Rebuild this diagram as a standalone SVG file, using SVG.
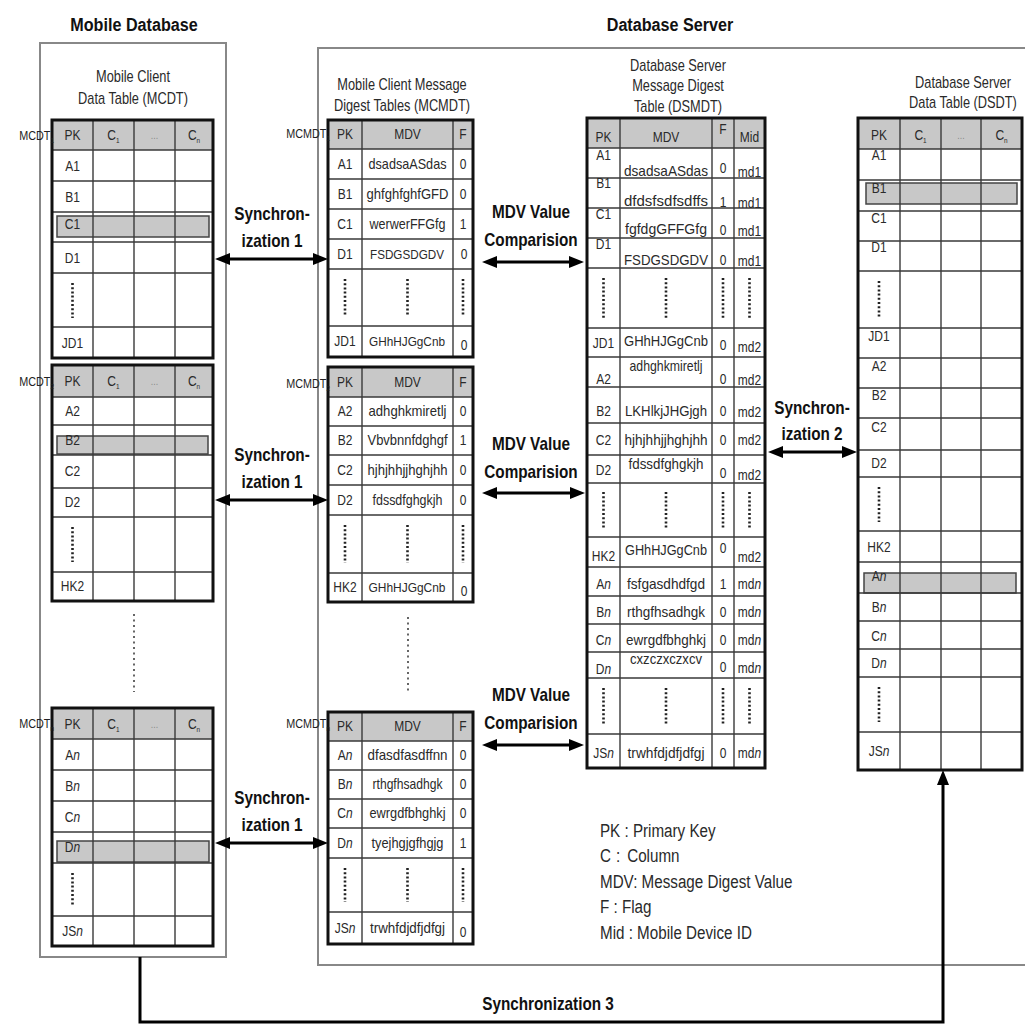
<svg xmlns="http://www.w3.org/2000/svg" width="1025" height="1025" viewBox="0 0 1025 1025">
<defs>
<style>
text{font-family:"Liberation Sans",Arial,sans-serif;fill:#2a2a2a;transform-box:fill-box;transform-origin:center;transform:scaleX(.8)}
.t{font-size:15px;text-anchor:middle}
.v{font-size:15px;text-anchor:middle;transform:none}
.vs{font-size:13.5px}
.s{font-size:13.5px;text-anchor:end;transform-origin:right center;fill:#222}
.ttl{font-size:16px;text-anchor:middle}
.b{font-weight:bold;fill:#111;text-anchor:middle;font-size:18px;transform:scaleX(.85)}
.big{font-size:19px}
.lg{font-size:19px;text-anchor:start;transform-origin:left center}
.el{font-size:11px;fill:#888;text-anchor:middle}
.hdr{fill:#c8c8c8}
.hl{fill:#c8c8c8;stroke:#444;stroke-width:1.5}
.grid{fill:none;stroke:#3a3a3a;stroke-width:1.4}
.outer{fill:none;stroke:#111;stroke-width:3}
.dots{stroke:#222;stroke-width:2.6;stroke-dasharray:2 2.2}
.vd{stroke:#555;stroke-width:1.8;stroke-dasharray:2 3.5}
.box{fill:none;stroke:#888;stroke-width:2}
.arr{fill:none;stroke:#000;stroke-width:3}
</style>
<marker id="ah" viewBox="0 0 15 12" refX="9" refY="6" markerWidth="15" markerHeight="12" markerUnits="userSpaceOnUse" orient="auto-start-reverse"><path d="M0,0 L15,6 L0,12 z" fill="#000"/></marker>
</defs>
<rect width="1025" height="1025" fill="#fff"/>

<g id="mobile-database">
<rect class="box" x="40" y="43" width="186" height="914"/>
<text class="b big" x="134" y="31">Mobile Database</text>
<text class="ttl" x="133" y="82">Mobile Client</text>
<text class="ttl" x="133" y="104">Data Table (MCDT)</text>
<line class="vd" x1="134" y1="614" x2="134" y2="692"/>
</g>

<g id="database-server">
<path class="box" d="M1025,48H318V965H1025"/>
<text class="b big" x="670" y="31">Database Server</text>
<text class="ttl" x="402" y="90">Mobile Client Message</text>
<text class="ttl" x="402" y="111">Digest Tables (MCMDT)</text>
<text class="ttl" x="678" y="71">Database Server</text>
<text class="ttl" x="678" y="91">Message Digest</text>
<text class="ttl" x="678" y="112">Table (DSMDT)</text>
<text class="ttl" x="963" y="88">Database Server</text>
<text class="ttl" x="963" y="108">Data Table (DSDT)</text>
<line class="vd" x1="408" y1="617" x2="408" y2="692"/>
</g>

<g id="mcdt1">
<rect class="hdr" x="52" y="120" width="161" height="30"/>
<rect class="hl" x="57" y="216" width="152" height="21"/>
<path class="grid" d="M52,150H213M52,181H213M52,212H213M52,242H213M52,273H213M52,327H213M93,120V358M134,120V358M175,120V358"/>
<rect class="outer" x="52" y="120" width="161" height="238"/>
<line class="dots" x1="72.5" y1="283" x2="72.5" y2="318"/>
<text class="s" x="54" y="140">MCDT<tspan font-size="8" dy="3">1</tspan></text>
<text class="t" x="72.5" y="140">PK</text><text class="t" x="113.5" y="140">C<tspan font-size="8" dy="3">1</tspan></text><text class="el" x="154.5" y="139">...</text><text class="t" x="194" y="140">C<tspan font-size="8" dy="3">n</tspan></text>
<text class="t" x="72.5" y="171">A1</text>
<text class="t" x="72.5" y="202">B1</text>
<text class="t" x="72.5" y="229">C1</text>
<text class="t" x="72.5" y="263">D1</text>
<text class="t" x="72.5" y="348">JD1</text>
</g>

<g id="mcdt2">
<rect class="hdr" x="52" y="365" width="161" height="32"/>
<rect class="hl" x="57" y="436" width="151" height="18"/>
<path class="grid" d="M52,397H213M52,425H213M52,455H213M52,488H213M52,517H213M52,572H213M93,365V601M134,365V601M175,365V601"/>
<rect class="outer" x="52" y="365" width="161" height="236"/>
<line class="dots" x1="72.5" y1="527" x2="72.5" y2="562"/>
<text class="s" x="54" y="386">MCDT<tspan font-size="8" dy="3">2</tspan></text>
<text class="t" x="72.5" y="386">PK</text><text class="t" x="113.5" y="386">C<tspan font-size="8" dy="3">1</tspan></text><text class="el" x="154.5" y="385">...</text><text class="t" x="194" y="386">C<tspan font-size="8" dy="3">n</tspan></text>
<text class="t" x="72.5" y="416">A2</text>
<text class="t" x="72.5" y="445">B2</text>
<text class="t" x="72.5" y="476">C2</text>
<text class="t" x="72.5" y="507">D2</text>
<text class="t" x="72.5" y="591">HK2</text>
</g>

<g id="mcdtn">
<rect class="hdr" x="52" y="708" width="161" height="31"/>
<rect class="hl" x="57" y="841" width="152" height="21"/>
<path class="grid" d="M52,739H213M52,770H213M52,801H213M52,832H213M52,863H213M52,916H213M93,708V946M134,708V946M175,708V946"/>
<rect class="outer" x="52" y="708" width="161" height="238"/>
<line class="dots" x1="72.5" y1="873" x2="72.5" y2="906"/>
<text class="s" x="54" y="728">MCDT<tspan font-size="8" dy="3">n</tspan></text>
<text class="t" x="72.5" y="729">PK</text><text class="t" x="113.5" y="729">C<tspan font-size="8" dy="3">1</tspan></text><text class="el" x="154.5" y="728">...</text><text class="t" x="194" y="729">C<tspan font-size="8" dy="3">n</tspan></text>
<text class="t" x="72.5" y="760">A<tspan font-style="italic">n</tspan></text>
<text class="t" x="72.5" y="791">B<tspan font-style="italic">n</tspan></text>
<text class="t" x="72.5" y="822">C<tspan font-style="italic">n</tspan></text>
<text class="t" x="72.5" y="852">D<tspan font-style="italic">n</tspan></text>
<text class="t" x="72.5" y="936">JS<tspan font-style="italic">n</tspan></text>
</g>

<g id="mcmdt1">
<rect class="hdr" x="328" y="120" width="145" height="29"/>
<path class="grid" d="M328,149H473M328,179H473M328,209H473M328,239H473M328,269H473M328,326H473M362,120V357M453,120V357"/>
<rect class="outer" x="328" y="120" width="145" height="237"/>
<path class="dots" d="M345,279V316M407.5,279V316M463,279V316"/>
<text class="s" x="330" y="138">MCMDT<tspan font-size="8" dy="3">1</tspan></text>
<text class="t" x="345" y="139">PK</text><text class="t" x="407.5" y="139">MDV</text><text class="t" x="463" y="139">F</text>
<text class="t" x="345" y="169">A1</text><text class="v" x="407.5" y="169" textLength="78" lengthAdjust="spacingAndGlyphs">dsadsaASdas</text><text class="t" x="463" y="169">0</text>
<text class="t" x="345" y="199">B1</text><text class="v" x="407.5" y="199" textLength="82" lengthAdjust="spacingAndGlyphs">ghfghfghfGFD</text><text class="t" x="463" y="199">0</text>
<text class="t" x="345" y="229">C1</text><text class="v" x="407.5" y="229" textLength="76" lengthAdjust="spacingAndGlyphs">werwerFFGfg</text><text class="t" x="463" y="229">1</text>
<text class="t" x="345" y="259">D1</text><text class="v vs" x="407" y="259" textLength="74" lengthAdjust="spacingAndGlyphs">FSDGSDGDV</text><text class="t" x="464" y="259">0</text>
<text class="t" x="345" y="346">JD1</text><text class="v vs" x="407" y="346" textLength="76" lengthAdjust="spacingAndGlyphs">GHhHJGgCnb</text><text class="t" x="464" y="350">0</text>
</g>

<g id="mcmdt2">
<rect class="hdr" x="328" y="367" width="145" height="30"/>
<path class="grid" d="M328,397H473M328,426H473M328,455H473M328,485H473M328,515H473M328,573H473M362,367V602M453,367V602"/>
<rect class="outer" x="328" y="367" width="145" height="235"/>
<path class="dots" d="M345,525V563M407.5,525V563M463,525V563"/>
<text class="s" x="330" y="388">MCMDT<tspan font-size="8" dy="3">2</tspan></text>
<text class="t" x="345" y="387">PK</text><text class="t" x="407.5" y="387">MDV</text><text class="t" x="463" y="387">F</text>
<text class="t" x="345" y="416">A2</text><text class="v" x="407.5" y="416" textLength="78" lengthAdjust="spacingAndGlyphs">adhghkmiretlj</text><text class="t" x="463" y="416">0</text>
<text class="t" x="345" y="445">B2</text><text class="v" x="407.5" y="445" textLength="80" lengthAdjust="spacingAndGlyphs">Vbvbnnfdghgf</text><text class="t" x="463" y="445">1</text>
<text class="t" x="345" y="475">C2</text><text class="v" x="407.5" y="475" textLength="80" lengthAdjust="spacingAndGlyphs">hjhjhhjjhghjhh</text><text class="t" x="463" y="475">0</text>
<text class="t" x="345" y="505">D2</text><text class="v" x="407.5" y="505" textLength="70" lengthAdjust="spacingAndGlyphs">fdssdfghgkjh</text><text class="t" x="463" y="505">0</text>
<text class="t" x="345" y="592">HK2</text><text class="v vs" x="407" y="592" textLength="77" lengthAdjust="spacingAndGlyphs">GHhHJGgCnb</text><text class="t" x="464" y="596">0</text>
</g>

<g id="mcmdtn">
<rect class="hdr" x="328" y="712" width="145" height="29"/>
<path class="grid" d="M328,741H473M328,770H473M328,799H473M328,828H473M328,858H473M328,912H473M362,712V944M453,712V944"/>
<rect class="outer" x="328" y="712" width="145" height="232"/>
<path class="dots" d="M345,868V902M407.5,868V902M463,868V902"/>
<text class="s" x="330" y="728">MCMDT<tspan font-size="8" dy="3">n</tspan></text>
<text class="t" x="345" y="731">PK</text><text class="t" x="407.5" y="731">MDV</text><text class="t" x="463" y="731">F</text>
<text class="t" x="345" y="760">A<tspan font-style="italic">n</tspan></text><text class="v" x="407.5" y="760" textLength="80" lengthAdjust="spacingAndGlyphs">dfasdfasdffnn</text><text class="t" x="463" y="760">0</text>
<text class="t" x="345" y="789">B<tspan font-style="italic">n</tspan></text><text class="v" x="407.5" y="789" textLength="70" lengthAdjust="spacingAndGlyphs">rthgfhsadhgk</text><text class="t" x="463" y="789">0</text>
<text class="t" x="345" y="818">C<tspan font-style="italic">n</tspan></text><text class="v" x="407.5" y="818" textLength="76" lengthAdjust="spacingAndGlyphs">ewrgdfbhghkj</text><text class="t" x="463" y="818">0</text>
<text class="t" x="345" y="848">D<tspan font-style="italic">n</tspan></text><text class="v" x="407.5" y="848" textLength="72" lengthAdjust="spacingAndGlyphs">tyejhgjgfhgjg</text><text class="t" x="463" y="848">1</text>
<text class="t" x="345" y="933">JS<tspan font-style="italic">n</tspan></text><text class="v" x="407.5" y="933" textLength="75" lengthAdjust="spacingAndGlyphs">trwhfdjdfjdfgj</text><text class="t" x="463" y="937">0</text>
</g>

<g id="dsmdt">
<rect class="hdr" x="587" y="118" width="178" height="30"/>
<path class="grid" d="M587,148H765M587,178H765M587,208H765M587,238H765M587,268H765M587,328H765M587,357H765M587,387H765M587,423H765M587,455H765M587,483H765M587,537H765M587,567H765M587,596H765M587,624H765M587,652H765M587,678H765M587,734H765M620,118V768M712,118V768M734,118V768"/>
<rect class="outer" x="587" y="118" width="178" height="650"/>
<path class="dots" d="M603.5,278V318M666,278V318M723,278V318M749.5,278V318M603.5,492V528M666,492V528M723,492V528M749.5,492V528M603.5,688V725M666,688V725M723,688V725M749.5,688V725"/>
<text class="t" x="603.5" y="142">PK</text><text class="t" x="666" y="142">MDV</text><text class="t" x="723" y="134">F</text><text class="t" x="749.5" y="142">Mid</text>
<text class="t" x="603.5" y="160">A1</text><text class="v" x="666" y="176" textLength="84" lengthAdjust="spacingAndGlyphs">dsadsaASdas</text><text class="t" x="723" y="173">0</text><text class="t" x="749.5" y="177">md1</text>
<text class="t" x="603.5" y="188">B1</text><text class="v" x="666" y="206" textLength="84" lengthAdjust="spacingAndGlyphs">dfdsfsdfsdffs</text><text class="t" x="723" y="207">1</text><text class="t" x="749.5" y="208">md1</text>
<text class="t" x="603.5" y="219">C1</text><text class="v" x="666" y="234" textLength="82" lengthAdjust="spacingAndGlyphs">fgfdgGFFGfg</text><text class="t" x="723" y="235">0</text><text class="t" x="749.5" y="236">md1</text>
<text class="t" x="603.5" y="249">D1</text><text class="v" x="666" y="265" textLength="84" lengthAdjust="spacingAndGlyphs">FSDGSDGDV</text><text class="t" x="723" y="265">0</text><text class="t" x="749.5" y="266">md1</text>
<text class="t" x="603.5" y="348">JD1</text><text class="v" x="666" y="346" textLength="84" lengthAdjust="spacingAndGlyphs">GHhHJGgCnb</text><text class="t" x="723" y="350">0</text><text class="t" x="749.5" y="352">md2</text>
<text class="t" x="603.5" y="384">A2</text><text class="v" x="666" y="371" textLength="73" lengthAdjust="spacingAndGlyphs">adhghkmiretlj</text><text class="t" x="723" y="384">0</text><text class="t" x="749.5" y="385">md2</text>
<text class="t" x="603.5" y="416">B2</text><text class="v" x="666" y="416" textLength="82" lengthAdjust="spacingAndGlyphs">LKHlkjJHGjgh</text><text class="t" x="723" y="416">0</text><text class="t" x="749.5" y="417">md2</text>
<text class="t" x="603.5" y="445">C2</text><text class="v" x="666" y="445" textLength="83" lengthAdjust="spacingAndGlyphs">hjhjhhjjhghjhh</text><text class="t" x="723" y="445">0</text><text class="t" x="749.5" y="445">md2</text>
<text class="t" x="603.5" y="475">D2</text><text class="v" x="666" y="469" textLength="75" lengthAdjust="spacingAndGlyphs">fdssdfghgkjh</text><text class="t" x="723" y="478">0</text><text class="t" x="749.5" y="480">md2</text>
<text class="t" x="603.5" y="561">HK2</text><text class="v" x="666" y="555" textLength="82" lengthAdjust="spacingAndGlyphs">GHhHJGgCnb</text><text class="t" x="723" y="553">0</text><text class="t" x="749.5" y="562">md2</text>
<text class="t" x="603.5" y="589">A<tspan font-style="italic">n</tspan></text><text class="v" x="666" y="589" textLength="78" lengthAdjust="spacingAndGlyphs">fsfgasdhdfgd</text><text class="t" x="723" y="589">1</text><text class="t" x="749.5" y="589">md<tspan font-style="italic">n</tspan></text>
<text class="t" x="603.5" y="617">B<tspan font-style="italic">n</tspan></text><text class="v" x="666" y="617" textLength="78" lengthAdjust="spacingAndGlyphs">rthgfhsadhgk</text><text class="t" x="723" y="617">0</text><text class="t" x="749.5" y="617">md<tspan font-style="italic">n</tspan></text>
<text class="t" x="603.5" y="645">C<tspan font-style="italic">n</tspan></text><text class="v" x="666" y="645" textLength="80" lengthAdjust="spacingAndGlyphs">ewrgdfbhghkj</text><text class="t" x="723" y="645">0</text><text class="t" x="749.5" y="645">md<tspan font-style="italic">n</tspan></text>
<text class="t" x="603.5" y="674">D<tspan font-style="italic">n</tspan></text><text class="v" x="666" y="664" textLength="72" lengthAdjust="spacingAndGlyphs">cxzczxczxcv</text><text class="t" x="723" y="672">0</text><text class="t" x="749.5" y="673">md<tspan font-style="italic">n</tspan></text>
<text class="t" x="603.5" y="758">JS<tspan font-style="italic">n</tspan></text><text class="v" x="666" y="758" textLength="77" lengthAdjust="spacingAndGlyphs">trwhfdjdfjdfgj</text><text class="t" x="723" y="758">0</text><text class="t" x="749.5" y="758">md<tspan font-style="italic">n</tspan></text>
</g>

<g id="dsdt">
<rect class="hdr" x="858" y="118" width="164" height="31"/>
<rect class="hl" x="866" y="183" width="151" height="21"/>
<rect class="hl" x="864" y="573" width="152" height="20"/>
<path class="grid" d="M858,149H1022M858,180H1022M858,211H1022M858,241H1022M858,271H1022M858,328H1022M858,358H1022M858,388H1022M858,418H1022M858,450H1022M858,477H1022M858,531H1022M858,562H1022M858,593H1022M858,621H1022M858,649H1022M858,677H1022M858,732H1022M900,118V770M941,118V770M981,118V770"/>
<rect class="outer" x="858" y="118" width="164" height="652"/>
<path class="dots" d="M879,281V318M879,487V522M879,687V722"/>
<text class="t" x="879" y="140">PK</text><text class="t" x="920.5" y="140">C<tspan font-size="8" dy="3">1</tspan></text><text class="el" x="961" y="139">...</text><text class="t" x="1001.5" y="140">C<tspan font-size="8" dy="3">n</tspan></text>
<text class="t" x="879" y="160">A1</text>
<text class="t" x="879" y="193">B1</text>
<text class="t" x="879" y="223">C1</text>
<text class="t" x="879" y="252">D1</text>
<text class="t" x="879" y="341">JD1</text>
<text class="t" x="879" y="371">A2</text>
<text class="t" x="879" y="400">B2</text>
<text class="t" x="879" y="432">C2</text>
<text class="t" x="879" y="468">D2</text>
<text class="t" x="879" y="552">HK2</text>
<text class="t" x="879" y="581">A<tspan font-style="italic">n</tspan></text>
<text class="t" x="879" y="612">B<tspan font-style="italic">n</tspan></text>
<text class="t" x="879" y="641">C<tspan font-style="italic">n</tspan></text>
<text class="t" x="879" y="668">D<tspan font-style="italic">n</tspan></text>
<text class="t" x="879" y="756">JS<tspan font-style="italic">n</tspan></text>
</g>

<g id="legend">
<text class="lg" x="600" y="837">PK : Primary Key</text>
<text class="lg" x="600" y="862">C<tspan x="620">:</tspan><tspan x="634">Column</tspan></text>
<text class="lg" x="600" y="888">MDV: Message Digest Value</text>
<text class="lg" x="600" y="913">F : Flag</text>
<text class="lg" x="600" y="939">Mid : Mobile Device ID</text>
</g>

<g id="connectors">
<line class="arr" x1="221" y1="259" x2="322" y2="259" marker-start="url(#ah)" marker-end="url(#ah)"/>
<line class="arr" x1="221" y1="500" x2="322" y2="500" marker-start="url(#ah)" marker-end="url(#ah)"/>
<line class="arr" x1="221" y1="843" x2="322" y2="843" marker-start="url(#ah)" marker-end="url(#ah)"/>
<line class="arr" x1="488" y1="262" x2="578" y2="262" marker-start="url(#ah)" marker-end="url(#ah)"/>
<line class="arr" x1="488" y1="493" x2="579" y2="493" marker-start="url(#ah)" marker-end="url(#ah)"/>
<line class="arr" x1="488" y1="745" x2="578" y2="745" marker-start="url(#ah)" marker-end="url(#ah)"/>
<line class="arr" x1="774" y1="452" x2="851" y2="452" marker-start="url(#ah)" marker-end="url(#ah)"/>
<path class="arr" d="M140,957V1022H943V776" marker-end="url(#ah)"/>
<text class="b" x="272" y="220">Synchron-</text><text class="b" x="272" y="247">ization 1</text>
<text class="b" x="272" y="461">Synchron-</text><text class="b" x="272" y="488">ization 1</text>
<text class="b" x="272" y="804">Synchron-</text><text class="b" x="272" y="831">ization 1</text>
<text class="b" x="531" y="218">MDV Value</text><text class="b" x="531" y="246">Comparision</text>
<text class="b" x="531" y="450">MDV Value</text><text class="b" x="531" y="478">Comparision</text>
<text class="b" x="531" y="701">MDV Value</text><text class="b" x="531" y="729">Comparision</text>
<text class="b" x="812" y="414">Synchron-</text><text class="b" x="812" y="440">ization 2</text>
<text class="b" x="548" y="1010" font-size="17">Synchronization 3</text>
</g>
</svg>
